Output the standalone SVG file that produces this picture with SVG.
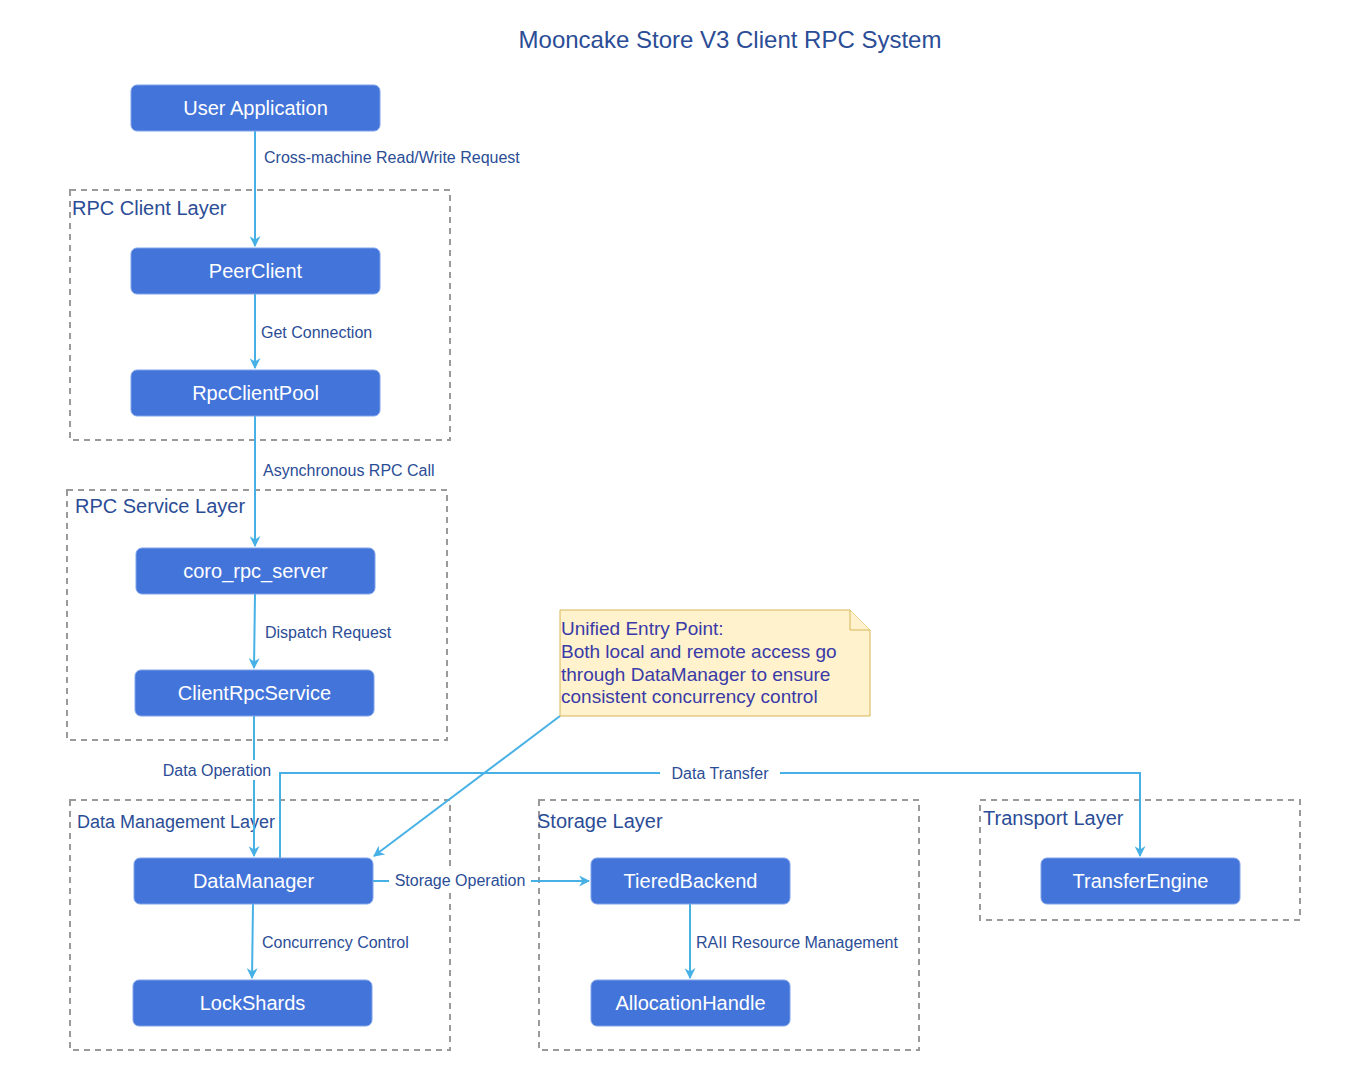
<svg xmlns="http://www.w3.org/2000/svg" width="1350" height="1080" viewBox="0 0 1350 1080">
  <defs>
    <marker id="arrow" viewBox="0 0 10 10" refX="9" refY="5" markerWidth="11" markerHeight="11" markerUnits="userSpaceOnUse" orient="auto">
      <path d="M0,0 L10,5 L0,10 L3,5 z" fill="#47b1e6"/>
    </marker>
  </defs>
  <style>
    text { font-family: "Liberation Sans", Arial, sans-serif; }
    .title { font-size: 24px; fill: #2b4d96; }
    .group rect { fill: none; stroke: #9a9a9a; stroke-width: 2; stroke-dasharray: 6 5; }
    .group text { font-size: 20px; fill: #2b4d96; }
    .node rect { fill: #4374d9; stroke: #7fa2ea; stroke-width: 1; }
    .node text { font-size: 20px; fill: #ffffff; text-anchor: middle; }
    .edge { fill: none; stroke: #47b1e6; stroke-width: 2; }
    .elabel { font-size: 16px; fill: #2b4d96; }
    .lbg { fill: #ffffff; }
    .note path { fill: #fff2cc; stroke: #d6b656; stroke-width: 1; }
    .note text { font-size: 19px; fill: #3a3aa8; }
  </style>
  <rect width="1350" height="1080" fill="#ffffff"/>

  <text class="title" x="730" y="48" text-anchor="middle">Mooncake Store V3 Client RPC System</text>

  <!-- layer containers -->
  <g id="layer-rpc-client" class="group">
    <rect x="70" y="190" width="380" height="250"/>
    <text x="72" y="215">RPC Client Layer</text>
  </g>
  <g id="layer-rpc-service" class="group">
    <rect x="67" y="490" width="380" height="250"/>
    <text x="75" y="513">RPC Service Layer</text>
  </g>
  <g id="layer-data-management" class="group">
    <rect x="70" y="800" width="380" height="250"/>
    <text x="77" y="828" style="font-size:18px">Data Management Layer</text>
  </g>
  <g id="layer-storage" class="group">
    <rect x="539" y="800" width="380" height="250"/>
    <text x="537" y="828">Storage Layer</text>
  </g>
  <g id="layer-transport" class="group">
    <rect x="980" y="800" width="320" height="120"/>
    <text x="983" y="825">Transport Layer</text>
  </g>

  <!-- connectors -->
  <g id="connectors">
    <path class="edge" d="M255,131 L255,246" marker-end="url(#arrow)"/>
    <text class="elabel" x="264" y="163">Cross-machine Read/Write Request</text>

    <path class="edge" d="M255,294 L255,368" marker-end="url(#arrow)"/>
    <text class="elabel" x="261" y="338">Get Connection</text>

    <path class="edge" d="M255,416 L255,546" marker-end="url(#arrow)"/>
    <text class="elabel" x="263" y="476">Asynchronous RPC Call</text>

    <path class="edge" d="M255,594 L254,668" marker-end="url(#arrow)"/>
    <text class="elabel" x="265" y="638">Dispatch Request</text>

    <path class="edge" d="M254,716 L254,856" marker-end="url(#arrow)"/>

    <path class="edge" d="M280,858 L280,773 L1140,773 L1140,856" marker-end="url(#arrow)"/>
    <rect class="lbg" x="660" y="763" width="120" height="20"/>
    <text class="elabel" x="720" y="779" text-anchor="middle">Data Transfer</text>

    <rect class="lbg" x="160" y="760" width="114" height="20"/>
    <text class="elabel" x="217" y="776" text-anchor="middle">Data Operation</text>

    <path class="edge" d="M560,716 L374,856" marker-end="url(#arrow)"/>

    <path class="edge" d="M373,881 L589,881" marker-end="url(#arrow)"/>
    <rect class="lbg" x="389" y="870" width="142" height="22"/>
    <text class="elabel" x="460" y="886" text-anchor="middle">Storage Operation</text>

    <path class="edge" d="M253,904 L252,978" marker-end="url(#arrow)"/>
    <text class="elabel" x="262" y="948">Concurrency Control</text>

    <path class="edge" d="M690,904 L690,978" marker-end="url(#arrow)"/>
    <text class="elabel" x="696" y="948">RAII Resource Management</text>
  </g>

  <!-- nodes -->
  <g id="user-application" class="node">
    <rect x="131" y="85" width="249" height="46" rx="6"/>
    <text x="255.5" y="115">User Application</text>
  </g>
  <g id="peer-client" class="node">
    <rect x="131" y="248" width="249" height="46" rx="6"/>
    <text x="255.5" y="278">PeerClient</text>
  </g>
  <g id="rpc-client-pool" class="node">
    <rect x="131" y="370" width="249" height="46" rx="6"/>
    <text x="255.5" y="400">RpcClientPool</text>
  </g>
  <g id="coro-rpc-server" class="node">
    <rect x="136" y="548" width="239" height="46" rx="6"/>
    <text x="255.5" y="578">coro_rpc_server</text>
  </g>
  <g id="client-rpc-service" class="node">
    <rect x="135" y="670" width="239" height="46" rx="6"/>
    <text x="254.5" y="700">ClientRpcService</text>
  </g>
  <g id="data-manager" class="node">
    <rect x="134" y="858" width="239" height="46" rx="6"/>
    <text x="253.5" y="888">DataManager</text>
  </g>
  <g id="lock-shards" class="node">
    <rect x="133" y="980" width="239" height="46" rx="6"/>
    <text x="252.5" y="1010">LockShards</text>
  </g>
  <g id="tiered-backend" class="node">
    <rect x="591" y="858" width="199" height="46" rx="6"/>
    <text x="690.5" y="888">TieredBackend</text>
  </g>
  <g id="allocation-handle" class="node">
    <rect x="591" y="980" width="199" height="46" rx="6"/>
    <text x="690.5" y="1010">AllocationHandle</text>
  </g>
  <g id="transfer-engine" class="node">
    <rect x="1041" y="858" width="199" height="46" rx="6"/>
    <text x="1140.5" y="888">TransferEngine</text>
  </g>

  <!-- annotation -->
  <g id="note-unified-entry" class="note">
    <path d="M560,610 L850,610 L870,630 L870,716 L560,716 Z"/>
    <path d="M850,610 L850,630 L870,630" fill="none"/>
    <text x="561" y="635">Unified Entry Point:</text>
    <text x="561" y="658">Both local and remote access go</text>
    <text x="561" y="681">through DataManager to ensure</text>
    <text x="561" y="703">consistent concurrency control</text>
  </g>
</svg>
